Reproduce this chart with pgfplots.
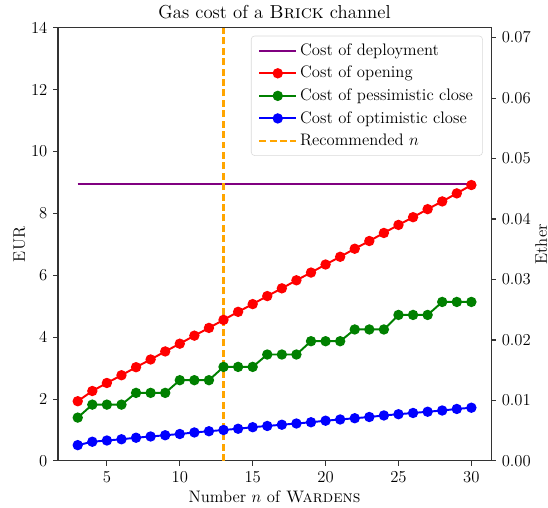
\documentclass[12pt,border=0pt]{standalone}
\usepackage{pgfplots}
\usepackage{pgfplotstable}
\pgfplotsset{compat=1.18}
\definecolor{mplpurple}{HTML}{800080}
\definecolor{mplgreen}{HTML}{008000}
\definecolor{mplorange}{HTML}{FFA500}
\pgfplotstableread{
n open pess opt
3 1.93 1.40 0.51
4 2.26 1.82 0.62
5 2.52 1.82 0.66
6 2.77 1.82 0.70
7 3.03 2.20 0.75
8 3.28 2.20 0.79
9 3.54 2.20 0.83
10 3.79 2.61 0.87
11 4.05 2.61 0.92
12 4.30 2.61 0.96
13 4.56 3.04 1.00
14 4.82 3.04 1.04
15 5.07 3.04 1.09
16 5.33 3.44 1.13
17 5.58 3.44 1.17
18 5.84 3.44 1.21
19 6.09 3.87 1.25
20 6.35 3.87 1.30
21 6.60 3.87 1.34
22 6.86 4.25 1.38
23 7.11 4.25 1.42
24 7.37 4.25 1.47
25 7.63 4.72 1.51
26 7.88 4.72 1.55
27 8.14 4.72 1.59
28 8.39 5.14 1.63
29 8.65 5.14 1.68
30 8.92 5.14 1.72
}\datatable
\begin{document}
\begin{tikzpicture}
\path[use as bounding box] (-41.8pt,-33.8pt) rectangle (352.8pt,331.9pt);
\begin{axis}[
  scale only axis,
  width=311.8pt, height=311.8pt,
  xmin=1.65, xmax=31.35,
  ymin=0, ymax=14,
  xtick={5,10,15,20,25,30},
  ytick={0,2,4,6,8,10,12,14},
  xtick pos=bottom, ytick pos=left,
  tick align=outside,
  major tick length=3.5pt,
  axis line style={line width=0.8pt, black!80},
  every tick/.style={line width=0.8pt, black!80},
  title={Gas cost of a \textsc{Brick} channel},
  title style={font=\fontsize{13.5pt}{16pt}\selectfont, yshift=-4pt},
  xlabel={Number $n$ of \textsc{Wardens}},
  ylabel={EUR},
  ylabel shift=-4pt,
  xlabel style={yshift=2pt},
  legend style={at={(0.981,0.982)}, anchor=north east, draw=black!15, rounded corners=2.5pt, font=\normalsize, row sep=2pt, inner xsep=5pt, inner ysep=3.5pt},
  legend cell align=left,
  legend image code/.code={\draw[mark repeat=2,mark phase=2] plot coordinates {(0cm,0cm) (0.47cm,0cm) (0.94cm,0cm)};},
]
\addplot[draw=mplpurple, line width=1.4pt] coordinates {(3,8.94) (30,8.94)};
\addlegendentry{Cost of deployment}
\addplot[red, line width=1.4pt, mark=*, mark size=3pt] table[x=n, y=open] {\datatable};
\addlegendentry{Cost of opening}
\addplot[mplgreen, line width=1.4pt, mark=*, mark size=3pt] table[x=n, y=pess] {\datatable};
\addlegendentry{Cost of pessimistic close}
\addplot[blue, line width=1.4pt, mark=*, mark size=3pt] table[x=n, y=opt] {\datatable};
\addlegendentry{Cost of optimistic close}
\addplot[draw=mplorange, line width=1.5pt, dash pattern=on 5pt off 2.5pt, mark=none] coordinates {(13,0) (13,14)};
\addlegendentry{Recommended $n$}
\end{axis}
\begin{axis}[
  scale only axis,
  width=311.8pt, height=311.8pt,
  xmin=1.65, xmax=31.35,
  ymin=0, ymax=0.0716,
  axis x line=none,
  axis y line*=right,
  ytick={0,0.01,0.02,0.03,0.04,0.05,0.06,0.07},
  yticklabel style={/pgf/number format/fixed, /pgf/number format/precision=2, /pgf/number format/fixed zerofill},
  scaled y ticks=false,
  tick align=outside,
  major tick length=3.5pt,
  axis line style={line width=0.8pt, black!80},
  every tick/.style={line width=0.8pt, black!80},
  ylabel={Ether},
  ylabel shift=-5pt,
]
\end{axis}
\end{tikzpicture}
\end{document}
